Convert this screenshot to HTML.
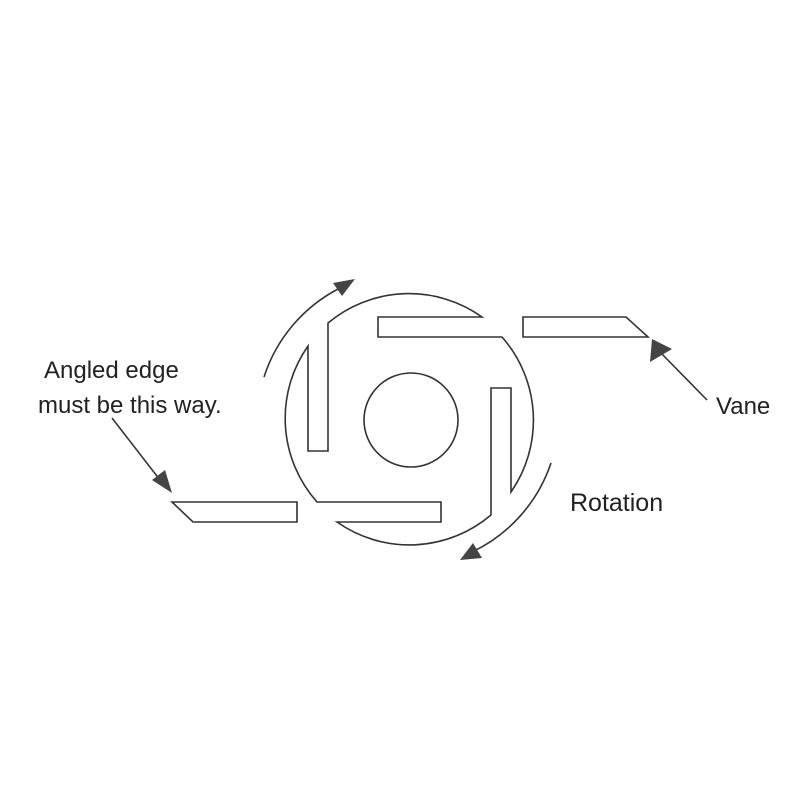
<!DOCTYPE html>
<html><head><style>body{margin:0;background:#fff}svg{display:block}</style></head>
<body>
<svg width="800" height="800" viewBox="0 0 800 800" xmlns="http://www.w3.org/2000/svg">
<rect width="800" height="800" fill="#fff"/>
<g fill="none" stroke="#333" stroke-width="1.6">
<path d="M482 317 L378 317 L378 337 L502 337 A126 126 0 0 1 511 492 L511 388 L491 388 L491 515 A126 126 0 0 1 337 522 L441 522 L441 502 L317 502 A126 126 0 0 1 308 346 L308 451 L328 451 L328 323 A126 126 0 0 1 482 317 Z"/>
<circle cx="411" cy="420" r="47"/>
<path d="M264 377 A152 152 0 0 1 340 288"/>
<path d="M551 463 A152 152 0 0 1 472 552"/>
<path d="M523 317 L626 317 L648 337 L523 337 Z"/>
<path d="M172 502 L297 502 L297 522 L193 522 Z"/>
<line x1="112" y1="418" x2="160" y2="480"/>
<line x1="707" y1="400" x2="660" y2="352"/>
</g>
<g fill="#444">
<polygon points="333,283 355,279 342,296"/>
<polygon points="460,560 473,543 482,558"/>
<polygon points="152,480 165,470 172,493"/>
<polygon points="652,339 650,362 672,349"/>
</g>
<g font-family="Liberation Sans, sans-serif" font-size="24" fill="#222">
<text x="44" y="378">Angled edge</text>
<text x="38" y="413">must be this way.</text>
<text x="716" y="414">Vane</text>
<text x="570" y="511" font-size="25">Rotation</text>
</g>
</svg>
</body></html>
